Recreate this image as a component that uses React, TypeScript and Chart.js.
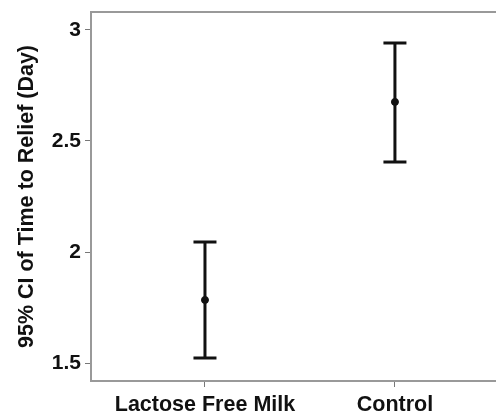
import React, { useEffect, useRef } from "react";
import { Chart, registerables } from "chart.js";

Chart.register(...registerables);

const categories = ["Lactose Free Milk", "Control"];
const means = [1.784, 2.676];
const lower = [1.523, 2.405];
const upper = [2.045, 2.941];
const yTicks = [1.5, 2, 2.5, 3];
const yTitle = "95% CI of Time to Relief (Day)";

const FONT = "'Liberation Sans', Arial, sans-serif";

const errorBarPlugin = {
  id: "errorBars",
  afterDatasetsDraw(chart: any) {
    const ctx = chart.ctx;
    const xs = chart.scales.x;
    const ys = chart.scales.y;
    const area = chart.chartArea;
    ctx.save();
    // top frame line
    ctx.strokeStyle = "#999";
    ctx.lineWidth = 2;
    ctx.beginPath();
    ctx.moveTo(area.left - 1, area.top);
    ctx.lineTo(chart.width, area.top);
    ctx.stroke();

    ctx.strokeStyle = "#111";
    ctx.lineWidth = 3;
    ctx.lineCap = "butt";
    categories.forEach((_, i) => {
      const px = xs.getPixelForValue(i);
      const pLo = ys.getPixelForValue(lower[i]);
      const pHi = ys.getPixelForValue(upper[i]);
      const cap = 11.5;
      ctx.beginPath();
      ctx.moveTo(px, pLo);
      ctx.lineTo(px, pHi);
      ctx.moveTo(px - cap, pLo);
      ctx.lineTo(px + cap, pLo);
      ctx.moveTo(px - cap, pHi);
      ctx.lineTo(px + cap, pHi);
      ctx.stroke();
    });
    ctx.restore();
  },
};

export default function App() {
  const ref = useRef<HTMLCanvasElement>(null);
  useEffect(() => {
    if (!ref.current) return;
    const chart = new Chart(ref.current, {
      type: "scatter",
      data: {
        datasets: [
          {
            data: means.map((m, i) => ({ x: i, y: m })),
            backgroundColor: "#111",
            borderColor: "#111",
            pointRadius: 3.5,
          },
        ],
      },
      options: {
        animation: false,
        responsive: false,
        layout: { autoPadding: false, padding: { top: 12, right: 0, left: 0, bottom: 0 } },
        plugins: { legend: { display: false }, tooltip: { enabled: false } },
        scales: {
          x: {
            type: "linear",
            position: "bottom",
            min: -0.6,
            max: 1.532,
            afterBuildTicks: (s: any) => {
              s.ticks = categories.map((_, i) => ({ value: i }));
            },
            afterFit: (s: any) => {
              s.height = 34;
              s.paddingLeft = 0;
              s.paddingRight = 0;
            },
            ticks: {
              callback: (v: any) => categories[v as number] ?? "",
              color: "#111",
              font: { family: FONT, size: 21.5, weight: "bold" },
              padding: 5,
              maxRotation: 0,
              autoSkip: false,
            },
            grid: {
              drawOnChartArea: false,
              drawTicks: true,
              tickLength: 6,
              color: "#777",
              lineWidth: 1,
            },
            border: { display: true, color: "#999", width: 2 },
          },
          y: {
            type: "linear",
            min: 1.419,
            max: 3.081,
            afterBuildTicks: (s: any) => {
              s.ticks = yTicks.map((v) => ({ value: v }));
            },
            afterFit: (s: any) => {
              s.width = 91;
              s.paddingTop = 0;
              s.paddingBottom = 0;
            },
            ticks: {
              callback: (v: any) => String(v),
              color: "#111",
              font: { family: FONT, size: 21, weight: "bold" },
              padding: 4,
            },
            grid: {
              drawOnChartArea: false,
              drawTicks: true,
              tickLength: 6,
              color: "#777",
              lineWidth: 1,
            },
            border: { display: true, color: "#999", width: 2 },
            title: {
              display: true,
              text: yTitle,
              color: "#111",
              font: { family: FONT, size: 21.5, weight: "bold" },
              padding: { top: 14, bottom: 0 },
            },
          },
        },
      },
      plugins: [errorBarPlugin],
    });
    return () => chart.destroy();
  }, []);
  return (
    <div style={{ position: "fixed", left: 0, top: 0, width: 496, height: 415, background: "#fff" }}>
      <canvas ref={ref} width={496} height={415} style={{ width: 496, height: 415 }} />
    </div>
  );
}
